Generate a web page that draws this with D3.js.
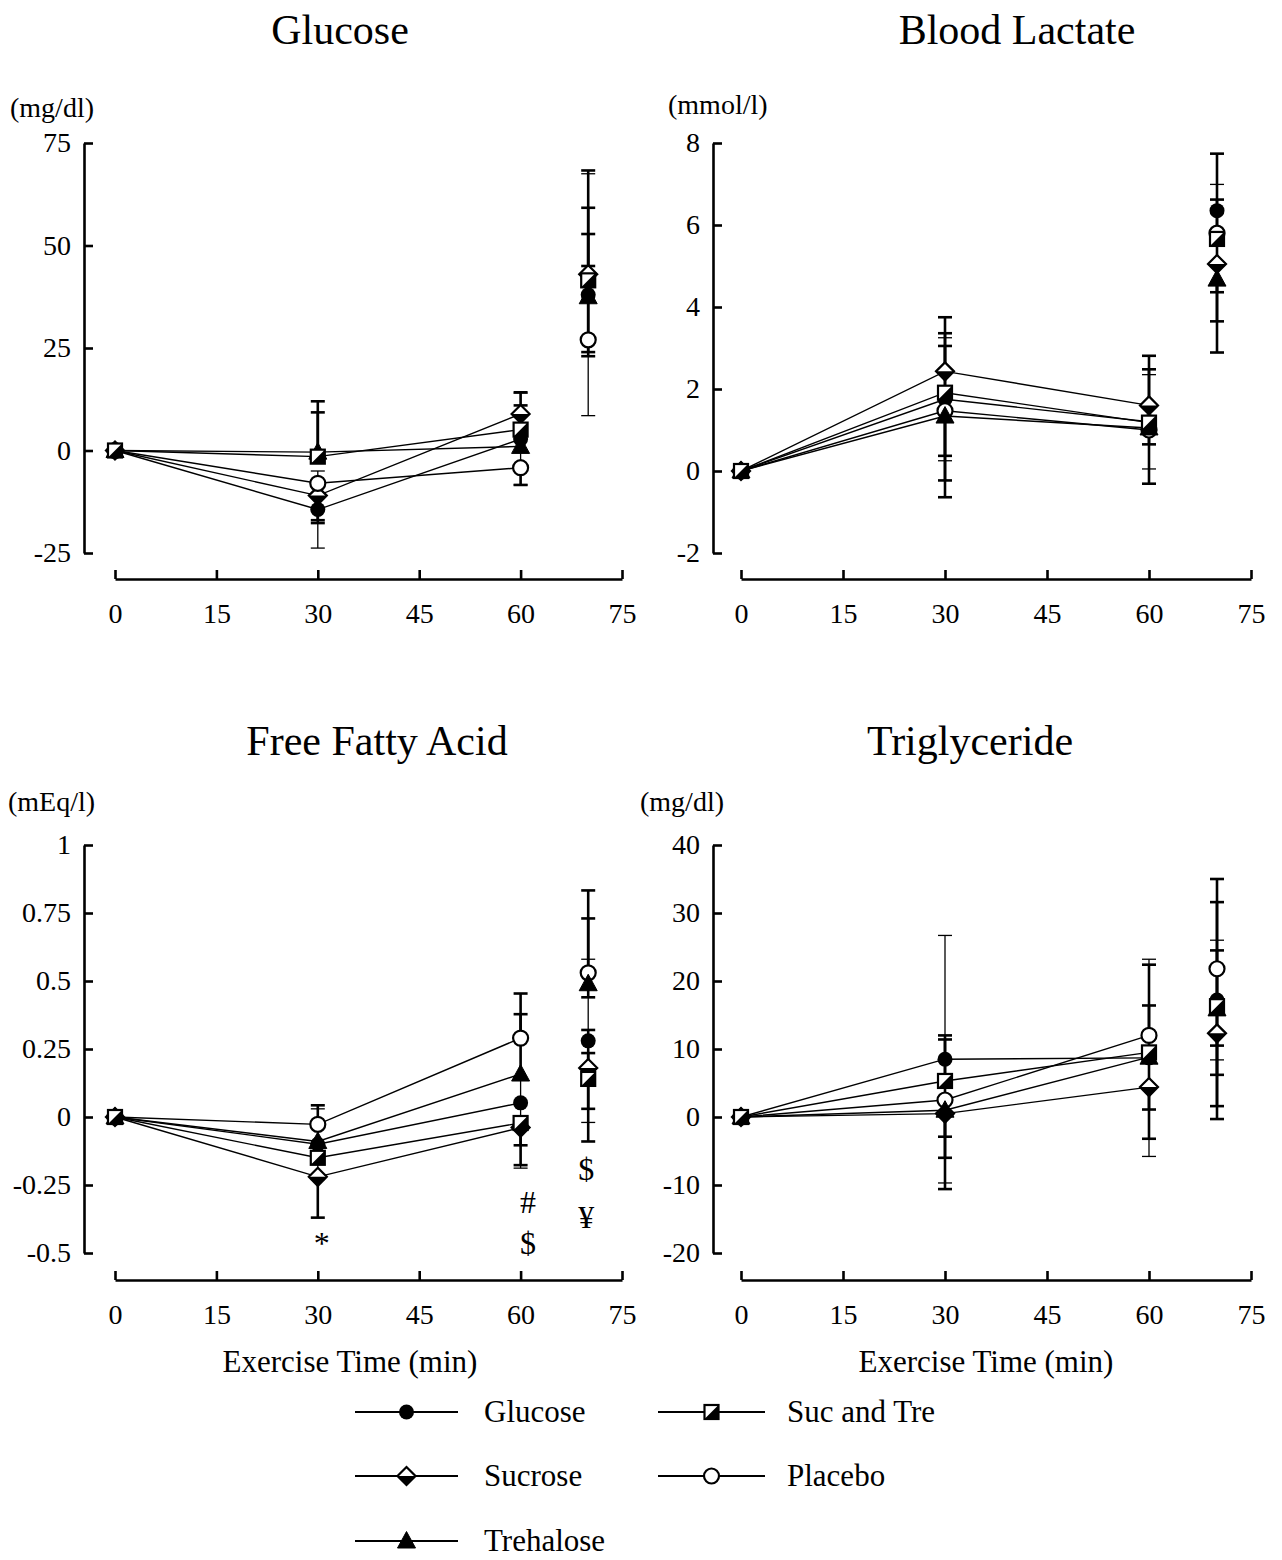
<!DOCTYPE html>
<html>
<head>
<meta charset="utf-8">
<script src="https://cdn.jsdelivr.net/npm/d3@7"></script>
<style>
  body { margin: 0; background: #fff; }
  svg { display: block; font-family: "Liberation Serif", "Times New Roman", serif; }
</style>
</head>
<body>
<div id="vis"></div>
<script>
'use strict';

//data: time points (min) and series
var times = [0, 30, 60, 70];
var seriesNames = ['Glucose', 'Sucrose', 'Trehalose', 'Suc and Tre', 'Placebo'];
var xTicks = [0, 15, 30, 45, 60, 75];

//glucose (mg/dl), rows follow seriesNames
var gluMean = [
    [0, -14.4, 2.8, 38.0],
    [0, -11.0, 8.9, 43.0],
    [0, -0.4, 1.0, 37.5],
    [0, -1.5, 5.1, 41.5],
    [0, -8.0, -4.2, 27.0]
];
var gluErrUp = [
    [0, 9.4, 11.2, 29.5],
    [0, 0, 5.3, 25.3],
    [0, 12.4, 0, 15.3],
    [0, 10.8, 5.9, 17.7],
    [0, 0, 0, 18.0]
];
var gluErrDown = [
    [0, 9.4, 11.2, 29.5],
    [0, 6.7, 0, 0],
    [0, 0, 0, 13.5],
    [0, 0, 0, 0],
    [0, 9.0, 4.2, 4.0]
];
var gluTicks = [-25, 0, 25, 50, 75];

//blood lactate (mmol/l)
var lacMean = [
    [0, 1.75, 1.2, 6.35],
    [0, 2.43, 1.6, 5.05],
    [0, 1.34, 1.05, 4.68],
    [0, 1.91, 1.18, 5.66],
    [0, 1.47, 1.0, 5.8]
];
var lacErrUp = [
    [0, 1.5, 1.15, 0.64],
    [0, 1.32, 1.21, 0],
    [0, 0, 0, 0],
    [0, 1.45, 1.3, 2.08],
    [0, 1.58, 0, 0.82]
];
var lacErrDown = [
    [0, 1.5, 1.15, 0.64],
    [0, 0, 0, 1.4],
    [0, 1.98, 1.36, 1.79],
    [0, 1.54, 0, 0],
    [0, 1.7, 0.35, 1.44]
];
var lacTicks = [-2, 0, 2, 4, 6, 8];

//free fatty acid (mEq/l)
var ffaMean = [
    [0, -0.10, 0.052, 0.28],
    [0, -0.22, -0.039, 0.18],
    [0, -0.09, 0.158, 0.49],
    [0, -0.15, -0.022, 0.14],
    [0, -0.027, 0.29, 0.53]
];
var ffaErrUp = [
    [0, 0.13, 0.24, 0.30],
    [0, 0, 0, 0.14],
    [0, 0, 0.22, 0.24],
    [0, 0, 0, 0.095],
    [0, 0.07, 0.164, 0.303]
];
var ffaErrDown = [
    [0, 0.13, 0.24, 0.30],
    [0, 0.15, 0.138, 0.15],
    [0, 0, 0, 0.05],
    [0, 0, 0.082, 0.23],
    [0, 0, 0, 0]
];
var ffaTicks = [-0.5, -0.25, 0, 0.25, 0.5, 0.75, 1];
//significance marks under the FFA points (time, value of baseline)
var ffaMarkText = ['*', '#', '$', '$', '¥'];
var ffaMarkTime = [30.6, 61.1, 61.1, 69.7, 69.7];
var ffaMarkValue = [-0.505, -0.353, -0.505, -0.232, -0.408];

//triglyceride (mg/dl)
var tgMean = [
    [0, 8.5, 8.7, 17.2],
    [0, 0.5, 4.4, 12.3],
    [0, 1.0, 8.8, 15.9],
    [0, 5.3, 9.5, 16.3],
    [0, 2.5, 12.0, 21.8]
];
var tgErrUp = [
    [0, 18.2, 14.5, 8.8],
    [0, 0, 0, 0],
    [0, 0, 0, 8.6],
    [0, 6.7, 6.9, 15.3],
    [0, 8.9, 10.4, 13.2]
];
var tgErrDown = [
    [0, 18.2, 14.5, 8.8],
    [0, 11.1, 3.3, 12.6],
    [0, 7.0, 12.0, 14.3],
    [0, 0, 0, 10.1],
    [0, 5.4, 0, 11.3]
];
var tgTicks = [-20, -10, 0, 10, 20, 30, 40];

//layout
var W = 1282, H = 1560;
var font = '"Liberation Serif", "Times New Roman", serif';
var markerKind = ['circleFilled', 'diamond', 'triangle', 'square', 'circleOpen'];
//drawing order of series (last one on top)
var drawOrder = [0, 1, 4, 2, 3];
//number of time points joined by lines (70 min is a separate point)
var joined = 3;

var panels = [
    { title: 'Glucose', unit: '(mg/dl)', mean: gluMean, up: gluErrUp, down: gluErrDown, ticks: gluTicks,
      axisX: 84, xr: [115, 622], yr: [553, 143], xAxisY: 579, titleX: 340, titleY: 44, unitX: 10, unitY: 117 },
    { title: 'Blood Lactate', unit: '(mmol/l)', mean: lacMean, up: lacErrUp, down: lacErrDown, ticks: lacTicks,
      axisX: 713, xr: [741, 1251], yr: [553, 143], xAxisY: 579, titleX: 1017, titleY: 44, unitX: 668, unitY: 114 },
    { title: 'Free Fatty Acid', unit: '(mEq/l)', mean: ffaMean, up: ffaErrUp, down: ffaErrDown, ticks: ffaTicks,
      axisX: 84, xr: [115, 622], yr: [1253, 845], xAxisY: 1280, titleX: 377, titleY: 755, unitX: 8, unitY: 811,
      xLabelX: 350 },
    { title: 'Triglyceride', unit: '(mg/dl)', mean: tgMean, up: tgErrUp, down: tgErrDown, ticks: tgTicks,
      axisX: 713, xr: [741, 1251], yr: [1253, 845], xAxisY: 1280, titleX: 970, titleY: 755, unitX: 640, unitY: 811,
      xLabelX: 986 }
];

var svg = d3.select('#vis')
    .append('svg')
    .attr('width', W)
    .attr('height', H);

function fmt(d) {
    return String(d).replace('\u2212', '-');
}

function drawMarker(g, kind, cx, cy) {
    var m = g.append('g').attr('transform', 'translate(' + cx + ',' + cy + ')');
    if (kind === 'circleFilled') {
        m.append('circle').attr('r', 7.5).attr('fill', '#000');
    } else if (kind === 'circleOpen') {
        m.append('circle').attr('r', 7.5).attr('fill', '#fff')
            .attr('stroke', '#000').attr('stroke-width', 2.2);
    } else if (kind === 'diamond') {
        m.append('path').attr('d', 'M0,-9L9,0L0,9L-9,0Z').attr('fill', '#fff')
            .attr('stroke', '#000').attr('stroke-width', 2.2);
        m.append('path').attr('d', 'M-9,0L9,0L0,9Z').attr('fill', '#000');
    } else if (kind === 'triangle') {
        m.append('path').attr('d', 'M0,-9.5L9,7L-9,7Z').attr('fill', '#000')
            .attr('stroke', '#000').attr('stroke-width', 1);
    } else if (kind === 'square') {
        m.append('rect').attr('x', -7).attr('y', -7).attr('width', 14).attr('height', 14)
            .attr('fill', '#fff').attr('stroke', '#000').attr('stroke-width', 2.2);
        m.append('path').attr('d', 'M7,-7L7,7L-7,7Z').attr('fill', '#000');
    }
}

function drawPanel(p) {
    var x = d3.scaleLinear().domain([0, 75]).range(p.xr);
    var y = d3.scaleLinear().domain([p.ticks[0], p.ticks[p.ticks.length - 1]]).range(p.yr);
    var g = svg.append('g');

    //title and unit
    g.append('text')
        .attr('x', p.titleX).attr('y', p.titleY)
        .attr('text-anchor', 'middle')
        .style('font-size', '42px')
        .text(p.title);
    g.append('text')
        .attr('x', p.unitX).attr('y', p.unitY)
        .style('font-size', '28px')
        .text(p.unit);

    //y axis, ticks pointing inwards
    var yAxis = g.append('g')
        .attr('transform', 'translate(' + p.axisX + ',0)')
        .call(d3.axisLeft(y).tickValues(p.ticks).tickSize(-9).tickSizeOuter(0)
            .tickPadding(13).tickFormat(fmt));

    //x axis, offset below the plot
    var xAxis = g.append('g')
        .attr('transform', 'translate(0,' + p.xAxisY + ')')
        .call(d3.axisBottom(x).tickValues(xTicks).tickSize(-9).tickSizeOuter(0)
            .tickPadding(24).tickFormat(fmt));

    [yAxis, xAxis].forEach(function (a) {
        a.select('.domain').attr('stroke-width', 2.6);
        a.selectAll('.tick line').attr('stroke-width', 2.6);
        a.selectAll('.tick text')
            .style('font-family', font)
            .style('font-size', '28px')
            .attr('fill', '#000');
    });

    if (p.xLabelX) {
        g.append('text')
            .attr('x', p.xLabelX)
            .attr('y', 1372)
            .attr('text-anchor', 'middle')
            .style('font-size', '31px')
            .text('Exercise Time (min)');
    }

    //error bars below the lines and markers
    var eg = g.append('g');
    drawOrder.forEach(function (s) {
        var thin = s === 0;
        var sw = thin ? 1.3 : 2.6;
        times.forEach(function (t, i) {
            var m = p.mean[s][i];
            [[p.up[s][i], 1], [p.down[s][i], -1]].forEach(function (e) {
                if (!e[0]) return;
                var end = m + e[1] * e[0];
                eg.append('line')
                    .attr('x1', x(t)).attr('x2', x(t))
                    .attr('y1', y(m)).attr('y2', y(end))
                    .attr('stroke', '#000').attr('stroke-width', sw);
                eg.append('line')
                    .attr('x1', x(t) - 7).attr('x2', x(t) + 7)
                    .attr('y1', y(end)).attr('y2', y(end))
                    .attr('stroke', '#000').attr('stroke-width', sw);
            });
        });
    });

    //series lines
    var line = d3.line()
        .x(function (d) { return x(d[0]); })
        .y(function (d) { return y(d[1]); });
    drawOrder.forEach(function (s) {
        var pts = times.slice(0, joined).map(function (t, i) { return [t, p.mean[s][i]]; });
        g.append('path')
            .attr('d', line(pts))
            .attr('fill', 'none')
            .attr('stroke', '#000')
            .attr('stroke-width', 1.4);
    });

    //markers
    drawOrder.forEach(function (s) {
        times.forEach(function (t, i) {
            drawMarker(g, markerKind[s], x(t), y(p.mean[s][i]));
        });
    });

    return { x: x, y: y, g: g };
}

var drawn = panels.map(drawPanel);

//significance marks on the FFA panel
var ffa = drawn[2];
ffaMarkText.forEach(function (s, i) {
    ffa.g.append('text')
        .attr('x', ffa.x(ffaMarkTime[i]))
        .attr('y', ffa.y(ffaMarkValue[i]))
        .attr('text-anchor', 'middle')
        .attr('fill', '#000')
        .style('font-size', '32px')
        .text(s);
});

//legend
var legCols = [[355, 458, 484], [658, 765, 787]];
var legRows = [1412, 1476, 1541];
var legPos = [[0, 0], [0, 1], [0, 2], [1, 0], [1, 1]];
var leg = svg.append('g');
seriesNames.forEach(function (name, s) {
    var c = legCols[legPos[s][0]];
    var ry = legRows[legPos[s][1]];
    leg.append('line')
        .attr('x1', c[0]).attr('x2', c[1])
        .attr('y1', ry).attr('y2', ry)
        .attr('stroke', '#000').attr('stroke-width', 2.2);
    drawMarker(leg, markerKind[s], (c[0] + c[1]) / 2, ry);
    leg.append('text')
        .attr('x', c[2]).attr('y', ry + 10)
        .style('font-size', '31px')
        .text(name);
});
</script>
</body>
</html>
